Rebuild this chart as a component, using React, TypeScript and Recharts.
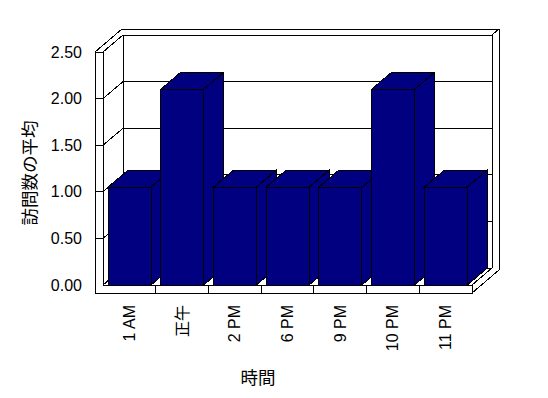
import React from 'react';
import { BarChart, Bar, XAxis, YAxis, CartesianGrid, Customized } from 'recharts';

const categories = ['1 AM', '正午', '2 PM', '6 PM', '9 PM', '10 PM', '11 PM'];
const visits = [1.05, 2.1, 1.05, 1.05, 1.05, 2.1, 1.05];
const yTicks = [0, 0.5, 1, 1.5, 2, 2.5];

const data = categories.map((hour, i) => ({ hour, visits: visits[i] }));

const W = 548;
const H = 398;
const PLOT = { left: 103, right: 472, top: 52, bottom: 285 };
const DEPTH = { dx: 20, dy: -17 };
const WALL = 8; // thickness of the left wall and floor slabs
const BACK = { dx: 7, dy: -6 }; // thickness of the back wall
const NAVY = '#000080';
const LATIN = '"Liberation Sans", Arial, "Noto Sans CJK JP", sans-serif';
const CJK = '"Noto Sans CJK JP", sans-serif';

// 3D column: side face, top face, then front face
const Column3D = (props: any) => {
  const { x, y, width, height } = props;
  if (!height) return null;
  const { dx, dy } = DEPTH;
  const r = x + width;
  const b = y + height;
  return (
    <g stroke="#000" strokeWidth={1} fill={NAVY} shapeRendering="crispEdges">
      <polygon points={`${r},${y} ${r + dx},${y + dy} ${r + dx},${b + dy} ${r},${b}`} />
      <polygon points={`${x},${y} ${x + dx},${y + dy} ${r + dx},${y + dy} ${r},${y}`} />
      <rect x={x} y={y} width={width} height={height} />
    </g>
  );
};

// each value gridline: tick across the wall slab, diagonal on left wall, line on back wall
const gridLine = (p: any) => {
  const { x1, x2, y1 } = p;
  const { dx, dy } = DEPTH;
  const atFloor = Math.abs(y1 - PLOT.bottom) < 1;
  return (
    <g key={p.key ?? `grid-${p.index}`} stroke="#000" strokeWidth={1} shapeRendering="crispEdges">
      {!atFloor && <line x1={x1 - WALL} y1={y1} x2={x1} y2={y1} />}
      <line x1={x1} y1={y1} x2={x1 + dx} y2={y1 + dy} />
      <line x1={x1 + dx} y1={y1 + dy} x2={x2 + dx} y2={y1 + dy} />
    </g>
  );
};

const Frame = () => {
  const { left: L, right: R, top: T, bottom: B } = PLOT;
  const { dx, dy } = DEPTH;
  const bx = dx + BACK.dx;
  const by = dy + BACK.dy;
  const band = (R - L) / categories.length;
  return (
    <g stroke="#000" strokeWidth={1} fill="none" shapeRendering="crispEdges">
      <polyline
        points={`${L},${B} ${L},${T} ${L - WALL},${T} ${L - WALL},${B + WALL} ${R},${B + WALL} ${R},${B}`}
      />
      <line x1={L} y1={B} x2={R} y2={B} />
      <line x1={L - WALL} y1={T} x2={L - WALL + bx} y2={T + by} />
      <line x1={L - WALL + bx} y1={T + by} x2={R + bx} y2={T + by} />
      <line x1={R + bx} y1={T + by} x2={R + bx} y2={B + WALL + by} />
      <line x1={R + dx} y1={T + dy} x2={R + bx} y2={T + by} />
      <line x1={R + dx} y1={T + dy} x2={R + dx} y2={B + dy} />
      <line x1={L + dx} y1={T + dy} x2={L + dx} y2={B + dy} />
      <line x1={R} y1={B} x2={R + dx} y2={B + dy} />
      <line x1={R} y1={B + WALL} x2={R + bx} y2={B + WALL + by} />
      {categories.slice(1).map((_, i) => (
        <line key={i} x1={L + (i + 1) * band} y1={B} x2={L + (i + 1) * band} y2={B + WALL} />
      ))}
    </g>
  );
};

const Labels = () => (
  <g fill="#000" stroke="none">
    <text
      transform="translate(28,173) rotate(-90)"
      textAnchor="middle"
      dominantBaseline="central"
      fontSize={17.5}
      fontFamily={CJK}
    >
      訪問数の平均
    </text>
    <text x={258} y={376} textAnchor="middle" dominantBaseline="central" fontSize={17.5} fontFamily={CJK}>
      時間
    </text>
  </g>
);

const YTick = (props: any) => {
  const { x, y, payload } = props;
  return (
    <text x={x} y={y} textAnchor="end" dominantBaseline="central" fontSize={16} fontFamily={LATIN} fill="#000">
      {Number(payload.value).toFixed(2)}
    </text>
  );
};

const XTick = (props: any) => {
  const { x, y, payload } = props;
  return (
    <text
      transform={`translate(${x},${y}) rotate(-90)`}
      textAnchor="end"
      dominantBaseline="central"
      fontSize={16}
      fontFamily={LATIN}
      fill="#000"
    >
      {payload.value}
    </text>
  );
};

export default function App() {
  return (
    <div style={{ position: 'absolute', left: 0, top: 0, width: W, height: H, background: '#fff' }}>
      <BarChart
        width={W}
        height={H}
        data={data}
        margin={{ top: PLOT.top, right: W - PLOT.right, bottom: 0, left: 0 }}
        barSize={43}
      >
        <CartesianGrid horizontal={gridLine} vertical={false} fill="none" />
        <Customized component={<Frame />} />
        <XAxis
          dataKey="hour"
          interval={0}
          height={H - PLOT.bottom}
          axisLine={false}
          tickLine={false}
          tickSize={6}
          tickMargin={14}
          tick={<XTick />}
        />
        <YAxis
          width={PLOT.left}
          domain={[0, 2.5]}
          ticks={yTicks}
          axisLine={false}
          tickLine={false}
          tickSize={0}
          tickMargin={21}
          tick={<YTick />}
        />
        <Bar dataKey="visits" shape={Column3D} isAnimationActive={false} />
        <Customized component={<Labels />} />
      </BarChart>
    </div>
  );
}
